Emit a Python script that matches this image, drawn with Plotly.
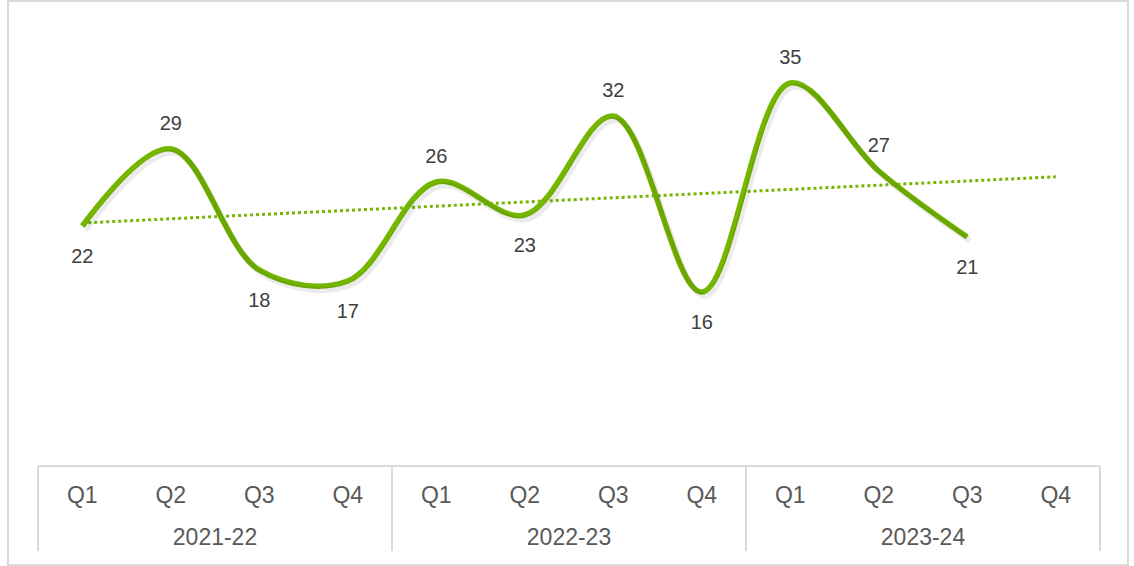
import plotly.graph_objects as go
import numpy as np

years = ["2021-22"] * 4 + ["2022-23"] * 4 + ["2023-24"] * 4
quarters = ["Q1", "Q2", "Q3", "Q4"] * 3
values = [22, 29, 18, 17, 26, 23, 32, 16, 35, 27, 21, None]
label_pos = ["bottom center", "top center", "bottom center", "bottom center",
             "top center", "bottom center", "top center", "bottom center",
             "top center", "top center", "bottom center", "top center"]

GREEN = "#74b600"

# linear trend over the available points, extended to all categories
idx = np.arange(1, len(values) + 1)
mask = np.array([v is not None for v in values])
yv = np.array([v for v in values if v is not None], dtype=float)
slope, intercept = np.polyfit(idx[mask], yv, 1)
trend = list(slope * idx + intercept)

# larger tick text via spans; a blank line above the year row opens the box
big = "<span style='font-size:23px'>{}</span>"
x = [["<br>" + big.format(y) for y in years], [big.format(q) for q in quarters]]

# invisible marker sizes only set the gap between point and its label
msize = [20 if p.startswith("top") else 34 for p in label_pos]

YR = [0.27, 40.18]
XR = [-0.5, 11.5]
px_y = (YR[1] - YR[0]) / 439.0
px_x = (XR[1] - XR[0]) / 1062.0

fig = go.Figure()
# soft drop shadow of the main line (same data, axes nudged a few pixels)
fig.add_trace(go.Scatter(
    x=x, y=values, mode="lines", xaxis="x2", yaxis="y2",
    line=dict(color="rgba(0,0,0,0.08)", width=6, shape="spline", smoothing=1.0),
    hoverinfo="skip", showlegend=False))
fig.add_trace(go.Scatter(
    x=x, y=trend, mode="lines",
    line=dict(color=GREEN, width=3, dash="dot"),
    hoverinfo="skip", showlegend=False))
fig.add_trace(go.Scatter(
    x=x, y=values, mode="lines+markers+text",
    line=dict(color=GREEN, width=5.5, shape="spline", smoothing=1.0),
    marker=dict(size=msize, color="rgba(0,0,0,0)", line=dict(width=0)),
    text=[str(v) if v is not None else "" for v in values],
    textposition=label_pos,
    textfont=dict(family="Liberation Sans, Arial, sans-serif", size=20, color="#404040"),
    cliponaxis=False, showlegend=False))

fig.update_layout(
    width=1134, height=566,
    margin=dict(l=38, r=34, t=26, b=101),
    paper_bgcolor="white", plot_bgcolor="white",
    font=dict(family="Liberation Sans, Arial, sans-serif", color="#595959", size=20),
    xaxis=dict(type="multicategory", range=XR, autorange=False, automargin=False,
               showline=True, linecolor="#d9d9d9", linewidth=2,
               showgrid=False, ticks="", showdividers=True, dividercolor="#d9d9d9",
               dividerwidth=2, ticklabelstandoff=12,
               tickfont=dict(size=20, color="#595959")),
    xaxis2=dict(type="multicategory", overlaying="x", visible=False,
                range=[XR[0] - 3 * px_x, XR[1] - 3 * px_x], autorange=False),
    yaxis=dict(range=YR, visible=False, showgrid=False, zeroline=False, automargin=False),
    yaxis2=dict(overlaying="y", visible=False, showgrid=False, zeroline=False,
                range=[YR[0] + 4 * px_y, YR[1] + 4 * px_y]),
    shapes=[dict(type="rect", xref="paper", yref="paper",
                 x0=-0.0282, x1=1.0264, y0=-0.2278, y1=1.057,
                 line=dict(color="#d9d9d9", width=2), fillcolor="rgba(0,0,0,0)")],
)

fig.write_html("out.html", config={"displayModeBar": False},
               post_script="document.body.style.margin='0px';")
